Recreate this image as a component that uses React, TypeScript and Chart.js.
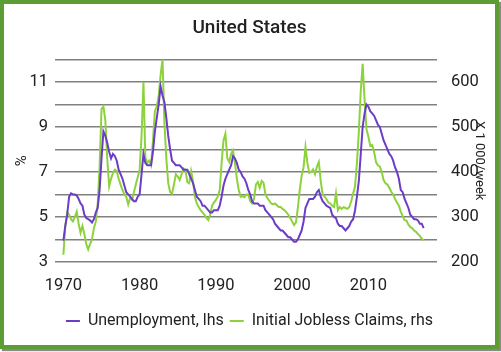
import React, { useEffect, useRef } from 'react';
import { Chart, registerables } from 'chart.js';

Chart.register(...registerables);

// Quarterly observations, first quarter of 1970 to second quarter of 2017
const START_YEAR = 1970;
const PERIODS_PER_YEAR = 4;

// US unemployment rate, % (left axis)
const unemploymentRate = [
  3.95, 4.6, 5.1, 5.9,
  6.05, 6.0, 6.0, 5.95,
  5.8, 5.6, 5.5, 5.1,
  4.95, 4.9, 4.85, 4.75,
  4.9, 5.2, 5.4, 6.2,
  7.6, 8.8, 8.6, 8.3,
  7.9, 7.6, 7.8, 7.7,
  7.5, 7.1, 6.9, 6.7,
  6.4, 6.1, 6.0, 5.9,
  5.8, 5.7, 5.7, 5.9,
  6.0, 6.9, 7.8, 7.4,
  7.3, 7.3, 7.3, 7.9,
  8.8, 9.4, 10.0, 10.8,
  10.4, 10.1, 9.4, 8.6,
  8.0, 7.5, 7.4, 7.3,
  7.3, 7.3, 7.2, 7.1,
  7.1, 7.1, 6.9, 6.7,
  6.5, 6.2, 5.9, 5.8,
  5.7, 5.5, 5.5, 5.4,
  5.3, 5.2, 5.2, 5.3,
  5.3, 5.3, 5.5, 5.9,
  6.4, 6.7, 6.9, 7.1,
  7.3, 7.7, 7.6, 7.4,
  7.1, 7.0, 6.8, 6.7,
  6.5, 6.2, 6.0, 5.7,
  5.6, 5.6, 5.6, 5.5,
  5.5, 5.5, 5.3, 5.2,
  5.1, 5.0, 4.9, 4.7,
  4.6, 4.5, 4.4, 4.4,
  4.3, 4.2, 4.1, 4.1,
  4.0, 3.9, 3.9, 4.0,
  4.2, 4.4, 4.8, 5.4,
  5.6, 5.8, 5.8, 5.8,
  5.9, 6.1, 6.2, 5.9,
  5.7, 5.6, 5.5, 5.45,
  5.4, 5.1, 5.0, 4.95,
  4.7, 4.6, 4.6, 4.5,
  4.4, 4.5, 4.6, 4.8,
  4.9, 5.3, 5.9, 6.6,
  7.8, 9.0, 9.6, 10.0,
  9.9, 9.7, 9.6, 9.5,
  9.3, 9.1, 9.0, 8.7,
  8.4, 8.2, 8.0, 7.8,
  7.7, 7.5, 7.2, 7.0,
  6.7, 6.2, 6.1, 5.8,
  5.6, 5.4, 5.1, 5.0,
  4.9, 4.9, 4.85, 4.7,
  4.7, 4.5,
];

// Initial jobless claims, x 1 000 per week (right axis)
const initialClaims = [
  216, 280, 310, 305,
  295, 290, 300, 312,
  285, 265, 280, 262,
  240, 228, 240, 250,
  275, 290, 330, 410,
  540, 545, 515, 430,
  368, 385, 398, 405,
  402, 385, 372, 360,
  350, 345, 328, 342,
  338, 355, 372, 388,
  405, 480, 600, 432,
  420, 425, 415, 470,
  535, 545, 570, 615,
  650, 510, 430, 375,
  355, 352, 372, 395,
  390, 382, 395, 408,
  405, 378, 375, 402,
  380, 345, 330, 322,
  315, 310, 305, 298,
  293, 305, 325, 332,
  338, 345, 360, 420,
  470, 485, 430, 422,
  440, 448, 420, 385,
  360, 345, 346, 344,
  350, 350, 335, 330,
  340, 372, 378, 365,
  380, 376, 350, 342,
  336, 330, 328, 330,
  326, 322, 322, 318,
  315, 310, 305, 298,
  290, 282, 288, 320,
  360, 392, 410, 455,
  420, 398, 400, 406,
  395, 412, 422, 380,
  350, 345, 340, 332,
  330, 325, 322, 352,
  315, 322, 318, 322,
  320, 318, 322, 335,
  352, 368, 420, 490,
  580, 640, 560, 495,
  478, 458, 460, 445,
  422, 415, 412, 400,
  382, 375, 372, 365,
  356, 350, 340, 332,
  325, 312, 302, 293,
  292, 283, 278, 275,
  270, 267, 262, 258,
  252, 248,
];

const xTickYears = [1970, 1980, 1990, 2000, 2010];
const leftLabelledTicks = [3, 5, 7, 9, 11];
const rightLabelledTicks = [200, 300, 400, 500, 600];

const TITLE = 'United States';
const SERIES_NAMES = ['Unemployment, lhs', 'Initial Jobless Claims, rhs'];
const LEFT_TITLE = '%';
const RIGHT_TITLE = 'X 1 000/week';

const PURPLE = '#6a3cc8';
const GREEN = '#8dd23c';
const TEXT = '#222222';
const GRID = '#808080';

export default function App() {
  const ref = useRef<HTMLCanvasElement | null>(null);

  useEffect(() => {
    if (!ref.current) return;
    Chart.defaults.font.family = 'Roboto, "Noto Sans", sans-serif';
    const periodYear = (i: number) => START_YEAR + i / PERIODS_PER_YEAR;

    const chart = new Chart(ref.current, {
      type: 'line',
      data: {
        datasets: [
          {
            label: SERIES_NAMES[0],
            data: unemploymentRate.map((v, i) => ({ x: periodYear(i), y: v })),
            borderColor: PURPLE,
            backgroundColor: PURPLE,
            borderWidth: 2,
            pointRadius: 0,
            tension: 0,
            yAxisID: 'y',
          },
          {
            label: SERIES_NAMES[1],
            data: initialClaims.map((v, i) => ({ x: periodYear(i), y: v })),
            borderColor: GREEN,
            backgroundColor: GREEN,
            borderWidth: 2,
            pointRadius: 0,
            tension: 0,
            yAxisID: 'y2',
          },
        ],
      },
      options: {
        responsive: false,
        animation: false,
        events: [],
        layout: { padding: { left: 0, right: 0, top: 0, bottom: 6 } },
        plugins: {
          title: {
            display: true,
            text: TITLE,
            color: TEXT,
            font: { size: 19, weight: '500' },
            padding: { top: 13, bottom: 19.6 },
          },
          legend: {
            position: 'bottom',
            labels: {
              color: TEXT,
              font: { size: 16 },
              boxWidth: 14,
              boxHeight: 2,
              padding: 6,
              generateLabels: (c: any) =>
                (Chart.defaults.plugins.legend.labels as any)
                  .generateLabels(c)
                  .map((l: any) => ({ ...l, lineWidth: 0 })),
            },
          },
          tooltip: { enabled: false },
        },
        scales: {
          x: {
            type: 'linear',
            min: 1968.9,
            max: 2019.0,
            grid: { display: false },
            border: { display: false },
            ticks: {
              color: TEXT,
              font: { size: 16.5 },
              padding: 6,
              maxRotation: 0,
              callback: (v: any) => String(v),
            },
            afterBuildTicks: (s: any) => {
              s.ticks = xTickYears.map((v) => ({ value: v }));
            },
            afterFit: (s: any) => {
              s.height = 45;
            },
          },
          y: {
            type: 'linear',
            position: 'left',
            min: 3,
            max: 12,
            ticks: {
              stepSize: 1,
              autoSkip: false,
              padding: 7,
              color: TEXT,
              font: { size: 16.5 },
              callback: (v: any) => (leftLabelledTicks.includes(Number(v)) ? String(v) : ''),
            },
            grid: { color: GRID, lineWidth: 1.5, drawTicks: false },
            border: { display: false },
            title: {
              display: true,
              text: LEFT_TITLE,
              color: TEXT,
              font: { size: 15 },
              padding: { top: 9, bottom: 0 },
            },
            afterFit: (s: any) => {
              s.width = 51;
            },
          },
          y2: {
            type: 'linear',
            position: 'right',
            min: 200,
            max: 650,
            ticks: {
              stepSize: 50,
              autoSkip: false,
              padding: 6,
              color: TEXT,
              font: { size: 16.5 },
              callback: (v: any) => (rightLabelledTicks.includes(Number(v)) ? String(v) : ''),
            },
            grid: { display: false },
            border: { display: false },
            title: {
              display: true,
              text: RIGHT_TITLE,
              color: TEXT,
              font: { size: 13 },
              padding: { top: 7.7, bottom: 0 },
            },
            afterFit: (s: any) => {
              s.width = 58;
            },
          },
        },
      } as any,
    });
    return () => chart.destroy();
  }, []);

  return (
    <div
      style={{
        position: 'absolute',
        left: 0,
        top: 0,
        width: 499,
        height: 349,
        boxSizing: 'border-box',
        border: '4px solid #5e9c34',
        boxShadow: '2px 2px 1px #8a8a8a',
        background: '#ffffff',
      }}
    >
      <canvas ref={ref} width={491} height={341} style={{ display: 'block', width: 491, height: 341 }} />
    </div>
  );
}
